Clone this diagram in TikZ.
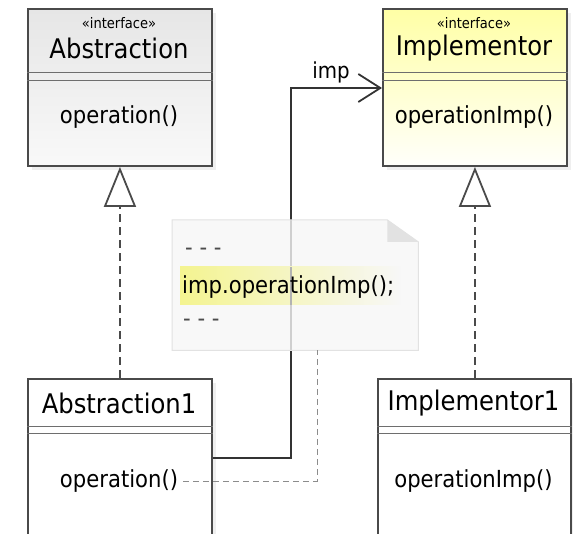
\documentclass[tikz,border=0pt]{standalone}
\usepackage{fontspec}
\setmainfont{DejaVu Sans}[FakeStretch=0.9]
\usetikzlibrary{arrows.meta,positioning,shadows}

\definecolor{boxline}{HTML}{4A4A4A}
\definecolor{ifgray}{HTML}{E6E6E6}
\definecolor{ifyellow}{HTML}{FFFF96}
\definecolor{hilite}{HTML}{F4F490}
\definecolor{notefill}{HTML}{F7F7F7}
\definecolor{noteline}{HTML}{E2E2E2}

\tikzset{
  classbox/.style={draw=boxline, line width=1.9pt, inner sep=0pt, anchor=north west,
    drop shadow={opacity=0.12, shadow xshift=4pt, shadow yshift=-4pt}},
  sepline/.style={draw=boxline!80, line width=0.9pt},
  stereo/.style={font=\fontsize{14.5}{15}\selectfont, inner sep=0pt},
  cname/.style={font=\fontsize{27}{27}\selectfont, inner sep=0pt},
  cop/.style={font=\fontsize{23.5}{24}\selectfont, inner sep=0pt},
  realize/.style={line width=1.8pt, draw=boxline, dash pattern=on 8pt off 5pt,
    -{Triangle[open, length=40pt, width=32pt, fill=white]}},
  assoc/.style={line width=1.8pt, draw=black!80, -{Straight Barb[length=22pt, width=28pt]}},
  notelink/.style={line width=1pt, draw=black!45, dash pattern=on 6pt off 4pt},
}

\begin{document}
\begin{tikzpicture}[x=1pt, y=-1pt]
    \useasboundingbox (0,0) rectangle (573,534);
    \clip (0,0) rectangle (573,534);
    \fill[white] (0,0) rectangle (573,534);

    % interfaces
    \node[classbox, minimum width=184pt, minimum height=157pt,
          top color=ifgray, bottom color=ifgray!25] (abs) at (27,8) {};
    \node[classbox, minimum width=184pt, minimum height=157pt,
          shading angle=35, top color=ifyellow!85, bottom color=ifyellow!4] (impl) at (382,8) {};

    % implementations
    \node[classbox, fill=white, minimum width=184pt, minimum height=170pt] (abs1) at (27,378) {};
    \node[classbox, fill=white, minimum width=193pt, minimum height=170pt] (impl1) at (377,378) {};

    \draw[sepline] ([yshift=-64pt]abs.north west) -- ([yshift=-64pt]abs.north east);
    \draw[sepline] ([yshift=-72pt]abs.north west) -- ([yshift=-72pt]abs.north east);
    \draw[sepline] ([yshift=-64pt]impl.north west) -- ([yshift=-64pt]impl.north east);
    \draw[sepline] ([yshift=-72pt]impl.north west) -- ([yshift=-72pt]impl.north east);
    \draw[sepline] ([yshift=-48pt]abs1.north west) -- ([yshift=-48pt]abs1.north east);
    \draw[sepline] ([yshift=-55pt]abs1.north west) -- ([yshift=-55pt]abs1.north east);
    \draw[sepline] ([yshift=-48pt]impl1.north west) -- ([yshift=-48pt]impl1.north east);
    \draw[sepline] ([yshift=-55pt]impl1.north west) -- ([yshift=-55pt]impl1.north east);

    \node[stereo] (absS) at (119,23) {«interface»};
    \node[cname] (absN) at (119,48) {Abstraction};
    \node[cop] (absOp) at (119,117) {operation()};

    \node[stereo] (implS) at (474,23) {«interface»};
    \node[cname] (implN) at (474,48) {Implementor};
    \node[cop] (implOp) at (474,117) {operationImp()};

    \node[cname] (abs1N) at (119,403) {Abstraction1};
    \node[cop] (abs1Op) at (119,481) {operation()};

    \node[cname] (impl1N) at (473.5,403) {Implementor1};
    \node[cop] (impl1Op) at (473.5,481) {operationImp()};

    % realizations
    \draw[realize] (abs1.north) -- (abs.south);
    \draw[realize] (impl1.north -| impl.south) -- (impl.south);

    % association
    \coordinate (bend) at (291,270);
    \draw[assoc] ([yshift=-80pt]abs1.north east) -| (bend) |- ([yshift=-80pt]impl.north west)
        node[pos=0.72, above=4pt, font=\fontsize{22}{22}\selectfont, inner sep=0pt] (impL) {imp};

    % note
    \node[minimum width=246pt, minimum height=130pt, anchor=north west, inner sep=0pt] (note) at (172,220) {};
    \filldraw[fill=notefill, draw=noteline, line width=1pt, fill opacity=0.8]
        (note.north west) -- ([xshift=-31pt]note.north east) -- ([yshift=-22pt]note.north east)
        -- (note.south east) -- (note.south west) -- cycle;
    \fill[noteline] ([xshift=-31pt]note.north east) -- ([yshift=-22pt]note.north east)
        -- ([xshift=-31pt, yshift=-22pt]note.north east) -- cycle;
    \node[cop, text=black!70, anchor=west] (dots1) at (185,252) {- - -};
    \fill[left color=hilite, right color=notefill] (180,267) rectangle (400,305);
    \draw[line width=1.8pt, black!30] (bend |- 0,267) -- (bend |- 0,305);
    \node[cop, anchor=west] (call) at (182,287) {imp.operationImp();};
    \node[cop, text=black!70, anchor=west] (dots2) at (183,323) {- - -};

    \coordinate (noteEnd) at (317,350);
    \draw[notelink] ([xshift=5pt]abs1Op.east) -| (noteEnd);
\end{tikzpicture}
\end{document}
